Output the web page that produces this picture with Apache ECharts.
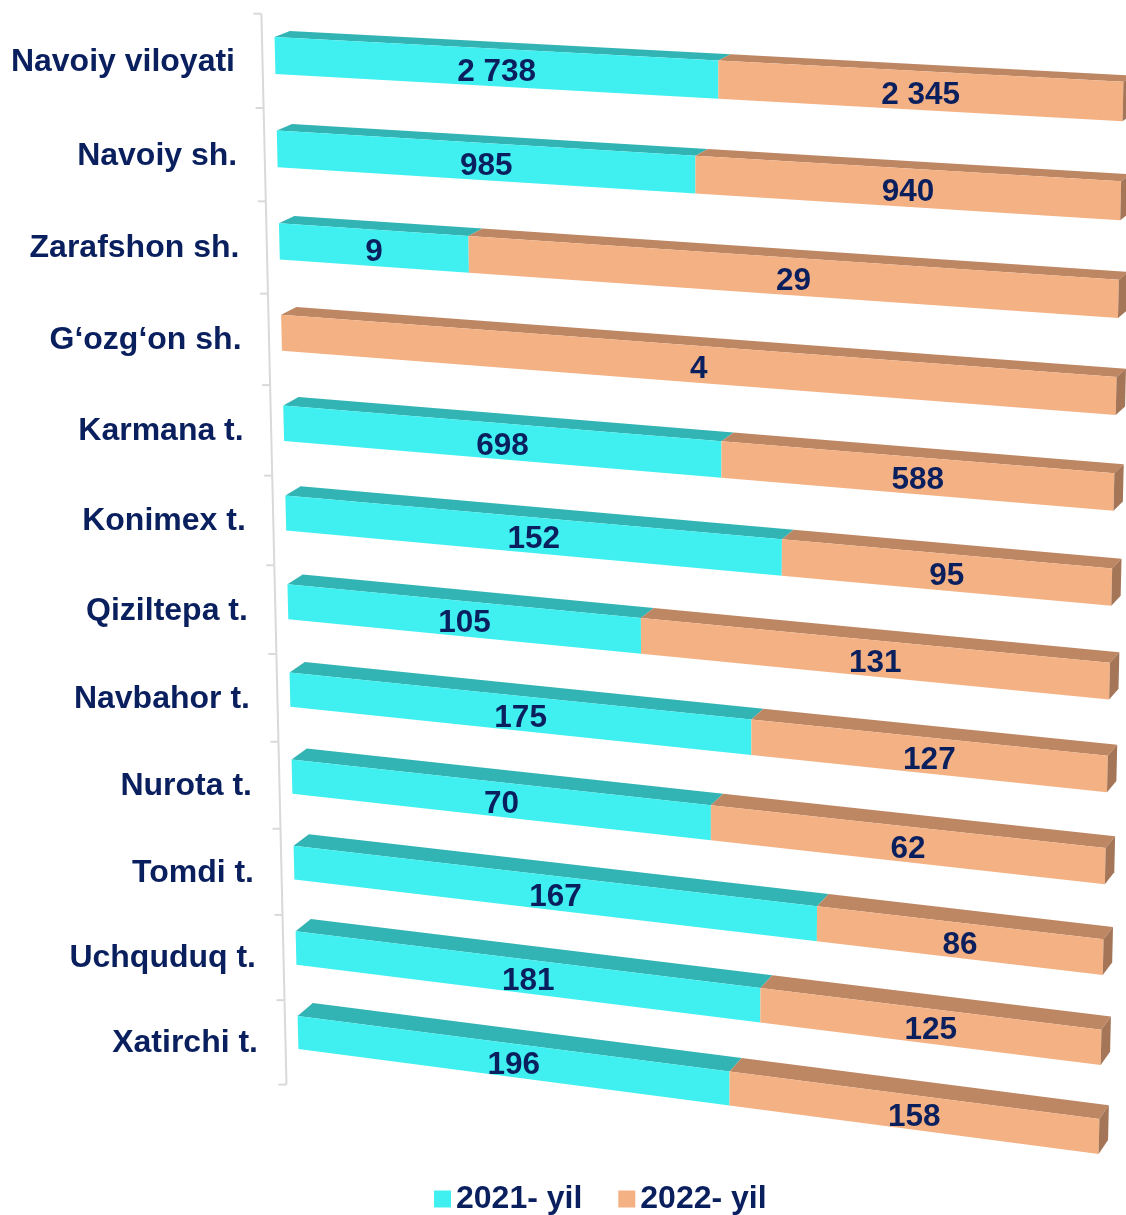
<!DOCTYPE html>
<html><head><meta charset="utf-8">
<script src="https://cdn.jsdelivr.net/npm/echarts@6/dist/echarts.min.js"></script>
<style>html,body{margin:0;padding:0;background:#fff}#c{width:1126px;height:1215px}</style>
</head><body><div id="c"></div>
<script>
// ---- data ----
const categories = ['Navoiy viloyati','Navoiy sh.','Zarafshon sh.','G‘ozg‘on sh.','Karmana t.','Konimex t.','Qiziltepa t.','Navbahor t.','Nurota t.','Tomdi t.','Uchquduq t.','Xatirchi t.'];
const values2021 = [2738,985,9,0,698,152,105,175,70,167,181,196];
const values2022 = [2345,940,29,4,588,95,131,127,62,86,125,158];
const seriesNames = ['2021- yil','2022- yil'];

// ---- style / view ----
const FONT = '"Liberation Sans", Arial, sans-serif';
const NAVY = '#0a1f5e';
const FRONT = ['#40F0F0','#F4B183'];
const TOP = ['#33B4B4','#BE8764'];
const SIDE = ['#2A9A9A','#A47556'];
const TILT = {tr:[0,46], br:[-24,104], bl:[23,0]}; // perspective tilt of the plane
const VP = [2412,-780]; // vanishing point for depth
const DEPTH = 0.0072;
const BAR_HALF = 0.197;

const fmt = v => String(v).replace(/\B(?=(\d{3})+(?!\d))/g, ' ');

function frame(api){
  const p0 = api.coord([0,0]), p1 = api.coord([1, categories.length-1]);
  return {x0:p0[0], y0:p0[1], x1:p1[0], y1:p1[1]};
}
function makeProj(api){
  const f = frame(api);
  const X0=f.x0, Y0=f.y0;
  const X1=f.x1+TILT.tr[0], Y1=f.y0+TILT.tr[1];
  const X2=f.x1+TILT.br[0], Y2=f.y1+TILT.br[1];
  const X3=f.x0+TILT.bl[0], Y3=f.y1+TILT.bl[1];
  const dx1=X1-X2, dx2=X3-X2, dx3=X0-X1+X2-X3;
  const dy1=Y1-Y2, dy2=Y3-Y2, dy3=Y0-Y1+Y2-Y3;
  const den = dx1*dy2 - dx2*dy1;
  const g = (dx3*dy2 - dx2*dy3)/den, h = (dx1*dy3 - dx3*dy1)/den;
  const a = X1-X0+g*X1, b = X3-X0+h*X3, c = X0;
  const d = Y1-Y0+g*Y1, e = Y3-Y0+h*Y3, ff = Y0;
  const P = function(pt){
    const u=(pt[0]-f.x0)/(f.x1-f.x0), v=(pt[1]-f.y0)/(f.y1-f.y0);
    const w=g*u+h*v+1;
    return [(a*u+b*v+c)/w, (d*u+e*v+ff)/w];
  };
  P.frame = f;
  return P;
}
const back = p => [p[0]+DEPTH*(VP[0]-p[0]), p[1]+DEPTH*(VP[1]-p[1])];

function renderBar(params, api){
  const si = params.seriesIndex;
  const s = api.value(0), e = api.value(1), i = api.value(2), val = api.value(3);
  if (!(e - s > 0)) return null;
  const P = makeProj(api);
  const A = api.coord([s,i]), B = api.coord([e,i]);
  const hh = api.size([0,1])[1]*BAR_HALF;
  const ftl = P([A[0],A[1]-hh]), ftr = P([B[0],B[1]-hh]), fbr = P([B[0],B[1]+hh]), fbl = P([A[0],A[1]+hh]);
  const btl = back(ftl), btr = back(ftr), bbr = back(fbr);
  const children = [
    {type:'polygon', shape:{points:[ftl,ftr,btr,btl]}, style:{fill:TOP[si]}},
    {type:'polygon', shape:{points:[ftl,ftr,fbr,fbl]}, style:{fill:FRONT[si]}}
  ];
  if (e >= 0.9999) children.push({type:'polygon', shape:{points:[ftr,btr,bbr,fbr]}, style:{fill:SIDE[si]}});
  const cL = P(A), cR = P(B);
  children.push({type:'text', z2:10, style:{text:fmt(val), x:(cL[0]+cR[0])/2, y:(cL[1]+cR[1])/2+4.5,
    fill:NAVY, fontSize:31.5, fontWeight:'bold', fontFamily:FONT, align:'center', verticalAlign:'middle'}});
  return {type:'group', children};
}

function renderAxis(params, api){
  const i = api.value(0);
  const P = makeProj(api), f = P.frame;
  const c = api.coord([0,i]);
  const band = api.size([0,1])[1];
  const axisPt = yf => { const p = P([f.x0, yf]); const v=(yf-f.y0)/(f.y1-f.y0); return [p[0]-12.5, p[1]+5.5+4.5*v]; };
  const t0 = axisPt(c[1]-band/2), t1 = axisPt(c[1]+band/2), mid = axisPt(c[1]);
  const ls = {stroke:'#d9d9d9', lineWidth:2};
  const children = [
    {type:'line', shape:{x1:t0[0],y1:t0[1],x2:t1[0],y2:t1[1]}, style:ls},
    {type:'line', shape:{x1:t0[0]-8,y1:t0[1],x2:t0[0],y2:t0[1]}, style:ls}
  ];
  if (i === categories.length-1) children.push({type:'line', shape:{x1:t1[0]-8,y1:t1[1],x2:t1[0],y2:t1[1]}, style:ls});
  const lx = P([f.x0, c[1]])[0] - 40;
  children.push({type:'text', style:{text:categories[i], x:lx, y:mid[1]+1, fill:NAVY, fontSize:32, fontWeight:'bold',
    fontFamily:FONT, align:'right', verticalAlign:'middle'}});
  return {type:'group', children};
}

const d2021 = [], d2022 = [], dAxis = [];
categories.forEach((c, i) => {
  const tot = values2021[i] + values2022[i];
  const sh = values2021[i] / tot;
  d2021.push([0, sh, i, values2021[i]]);
  d2022.push([sh, 1, i, values2022[i]]);
  dAxis.push([i]);
});

const chart = echarts.init(document.getElementById('c'), null, {renderer:'canvas'});
chart.setOption({
  animation:false,
  backgroundColor:'#fff',
  grid:{left:275, right:3, top:11.09, bottom:138.1},
  xAxis:{type:'value', min:0, max:1, show:false},
  yAxis:{type:'category', data:categories, inverse:true, show:false},
  legend:{data:seriesNames, left:434, top:1183, padding:0, icon:'rect', itemWidth:17, itemHeight:17, itemGap:36,
    selectedMode:false, textStyle:{fontSize:32, fontWeight:'bold', color:NAVY, fontFamily:FONT}},
  series:[
    {type:'custom', name:seriesNames[0], renderItem:renderBar, data:d2021, itemStyle:{color:FRONT[0]},
      encode:{x:[0,1], y:2}, clip:false},
    {type:'custom', name:seriesNames[1], renderItem:renderBar, data:d2022, itemStyle:{color:FRONT[1]},
      encode:{x:[0,1], y:2}, clip:false},
    {type:'custom', renderItem:renderAxis, data:dAxis, encode:{y:0}, silent:true, clip:false}
  ]
});
</script></body></html>
